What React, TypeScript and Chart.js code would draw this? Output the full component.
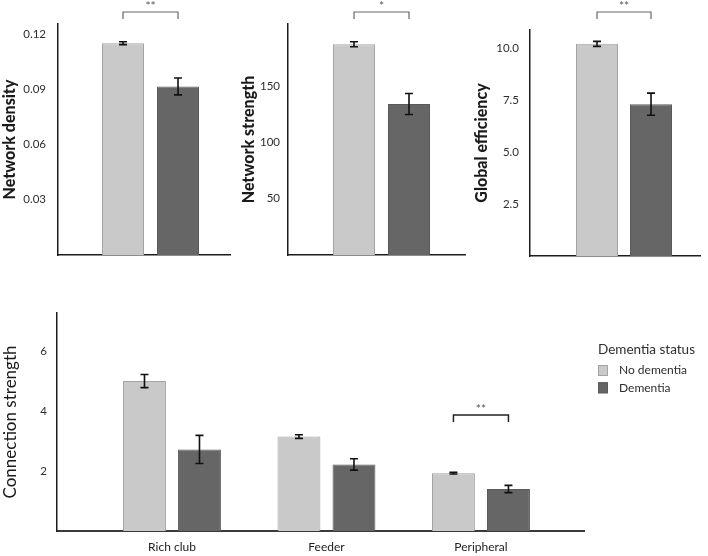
import React, { useEffect, useRef } from 'react';
import { Chart, registerables } from 'chart.js';

Chart.register(...registerables);

// ---------------- data ----------------
const GROUPS = ['No dementia', 'Dementia'];

const DENSITY = [0.115, 0.0915];
const DENSITY_ERR = [0.0008, 0.0046];
const DENSITY_TICKS = [0.03, 0.06, 0.09, 0.12];

const STRENGTH = [187, 134];
const STRENGTH_ERR = [2.2, 9.3];
const STRENGTH_TICKS = [50, 100, 150];

const EFFICIENCY = [10.2, 7.3];
const EFFICIENCY_ERR = [0.12, 0.53];
const EFFICIENCY_TICKS = [2.5, 5.0, 7.5, 10.0];

const TOP_SIGNIFICANCE = ['**', '*', '**'];

const CONNECTION_TYPES = ['Rich club', 'Feeder', 'Peripheral'];
const CONN_NO_DEMENTIA = [5.0, 3.15, 1.93];
const CONN_NO_DEMENTIA_ERR = [0.22, 0.06, 0.03];
const CONN_DEMENTIA = [2.72, 2.22, 1.4];
const CONN_DEMENTIA_ERR = [0.47, 0.19, 0.12];
const CONN_TICKS = [2, 4, 6];
const CONN_SIGNIFICANCE = ['', '', '**'];

const LEGEND_TITLE = 'Dementia status';

// ---------------- styles ----------------
const FONT = "Lato, 'Open Sans', sans-serif";
const LIGHT = '#c9c9c9';
const LIGHT_BORDER = '#a4a4a4';
const DARK = '#666666';
const DARK_BORDER = '#5a5a5a';
const AXIS = '#1c1c1c';
const TEXT = '#2e2e2e';

// ---------------- plugins ----------------
const errorBarsPlugin = {
  id: 'errorBars',
  afterDatasetsDraw(chart: any) {
    const { ctx } = chart;
    const yScale = chart.scales.y;
    chart.data.datasets.forEach((ds: any, di: number) => {
      const meta = chart.getDatasetMeta(di);
      const errs: number[] = ds.errors || [];
      meta.data.forEach((el: any, i: number) => {
        const e = errs[i];
        if (e === undefined) return;
        const v = ds.data[i].y;
        const x = el.x;
        const yTop = yScale.getPixelForValue(v + e);
        const yBot = yScale.getPixelForValue(v - e);
        const cap = 4;
        ctx.save();
        ctx.strokeStyle = '#111';
        ctx.lineWidth = 1.6;
        ctx.beginPath();
        ctx.moveTo(x, yTop);
        ctx.lineTo(x, yBot);
        ctx.moveTo(x - cap, yTop);
        ctx.lineTo(x + cap, yTop);
        ctx.moveTo(x - cap, yBot);
        ctx.lineTo(x + cap, yBot);
        ctx.stroke();
        ctx.restore();
      });
    });
  },
};

const bracketPlugin = {
  id: 'sigBracket',
  afterDraw(chart: any, _args: any, opts: any) {
    const items = (opts && opts.items) || [];
    const { ctx } = chart;
    const yScale = chart.scales.y;
    items.forEach((it: any) => {
      if (!it.label) return;
      const a = chart.getDatasetMeta(it.a[0]).data[it.a[1]];
      const b = chart.getDatasetMeta(it.b[0]).data[it.b[1]];
      const y = it.level !== undefined ? yScale.getPixelForValue(it.level) : it.y;
      ctx.save();
      ctx.strokeStyle = opts.color;
      ctx.lineWidth = opts.width;
      ctx.beginPath();
      ctx.moveTo(a.x, y + 7);
      ctx.lineTo(a.x, y);
      ctx.lineTo(b.x, y);
      ctx.lineTo(b.x, y + 7);
      ctx.stroke();
      ctx.fillStyle = '#555';
      ctx.font = `12px ${FONT}`;
      ctx.textAlign = 'center';
      ctx.textBaseline = 'middle';
      ctx.fillText(it.label, (a.x + b.x) / 2, y - 6);
      ctx.restore();
    });
  },
};

const statusLegendPlugin = {
  id: 'statusLegend',
  afterDraw(chart: any, _args: any, opts: any) {
    if (!opts || !opts.display) return;
    const { ctx, chartArea } = chart;
    const x = chartArea.right + 14;
    const top = chartArea.top;
    ctx.save();
    ctx.textBaseline = 'middle';
    ctx.textAlign = 'left';
    ctx.fillStyle = TEXT;
    ctx.font = `13.5px ${FONT}`;
    ctx.fillText(opts.title, x, top + 37);
    ctx.font = `12px ${FONT}`;
    chart.data.datasets.forEach((ds: any, i: number) => {
      const cy = top + 57.5 + i * 17.3;
      ctx.fillStyle = ds.backgroundColor;
      ctx.fillRect(x, cy - 5.5, 10, 11);
      ctx.strokeStyle = ds.borderColor;
      ctx.lineWidth = 1;
      ctx.strokeRect(x + 0.5, cy - 5, 9, 10);
      ctx.fillStyle = TEXT;
      ctx.fillText(ds.label, x + 21, cy);
    });
    ctx.restore();
  },
};

// ---------------- configs ----------------
type TopParams = {
  values: number[];
  errors: number[];
  ticks: number[];
  decimals: number;
  yMax: number;
  xMin: number;
  xMax: number;
  yWidth: number;
  xHeight: number;
  padding: any;
  tickPad: number;
  titlePad: number;
  title: string;
  sig: string;
  barPct: number;
};

function topConfig(p: TopParams): any {
  return {
    type: 'bar',
    data: {
      datasets: [
        {
          label: p.title,
          data: p.values.map((v, i) => ({ x: i + 1, y: v })),
          errors: p.errors,
          backgroundColor: [LIGHT, DARK],
          borderColor: [LIGHT_BORDER, DARK_BORDER],
          borderWidth: 1,
          barPercentage: p.barPct,
          categoryPercentage: 1,
        },
      ],
    },
    options: {
      animation: false,
      responsive: false,
      maintainAspectRatio: false,
      devicePixelRatio: 1,
      events: [],
      layout: { padding: p.padding },
      plugins: {
        legend: { display: false },
        tooltip: { enabled: false },
        sigBracket: {
          color: '#666',
          width: 1.2,
          items: [{ a: [0, 0], b: [0, 1], y: 12, label: p.sig }],
        },
      },
      scales: {
        x: {
          type: 'linear',
          offset: false,
          min: p.xMin,
          max: p.xMax,
          afterBuildTicks: (s: any) => {
            s.ticks = GROUPS.map((_, i) => ({ value: i + 1 }));
          },
          afterFit: (s: any) => {
            s.height = p.xHeight;
            s.paddingLeft = 0;
            s.paddingRight = 0;
          },
          grid: { display: false, drawTicks: false },
          border: { display: true, color: AXIS, width: 1.5 },
          ticks: { display: false },
        },
        y: {
          min: 0,
          max: p.yMax,
          afterBuildTicks: (s: any) => {
            s.ticks = p.ticks.map((v) => ({ value: v }));
          },
          afterFit: (s: any) => {
            s.width = p.yWidth;
            s.paddingTop = 0;
            s.paddingBottom = 0;
          },
          grid: { display: false, drawTicks: false },
          border: { display: true, color: AXIS, width: 1.5 },
          ticks: {
            padding: p.tickPad,
            color: TEXT,
            font: { family: FONT, size: 11.5 },
            callback: (v: any) => Number(v).toFixed(p.decimals),
          },
          title: {
            display: true,
            text: p.title,
            color: '#1a1a1a',
            font: { family: FONT, size: 16, weight: '900' },
            padding: { top: p.titlePad, bottom: 0 },
          },
        },
      },
    },
    plugins: [errorBarsPlugin, bracketPlugin],
  };
}

function bottomConfig(): any {
  return {
    type: 'bar',
    data: {
      datasets: [
        {
          label: GROUPS[0],
          data: CONN_NO_DEMENTIA.map((v, i) => ({ x: i + 1, y: v })),
          errors: CONN_NO_DEMENTIA_ERR,
          backgroundColor: LIGHT,
          borderColor: LIGHT_BORDER,
          borderWidth: 1,
          barPercentage: 0.78,
          categoryPercentage: 0.712,
        },
        {
          label: GROUPS[1],
          data: CONN_DEMENTIA.map((v, i) => ({ x: i + 1, y: v })),
          errors: CONN_DEMENTIA_ERR,
          backgroundColor: DARK,
          borderColor: DARK_BORDER,
          borderWidth: 1,
          barPercentage: 0.78,
          categoryPercentage: 0.712,
        },
      ],
    },
    options: {
      animation: false,
      responsive: false,
      maintainAspectRatio: false,
      devicePixelRatio: 1,
      events: [],
      layout: { padding: { top: 13, right: 124, left: 0, bottom: 0 } },
      plugins: {
        legend: { display: false },
        tooltip: { enabled: false },
        statusLegend: { display: true, title: LEGEND_TITLE },
        sigBracket: {
          color: '#222',
          width: 1.5,
          items: CONN_SIGNIFICANCE.map((s, i) => ({ a: [0, i], b: [1, i], level: 3.87, label: s })),
        },
      },
      scales: {
        x: {
          type: 'linear',
          offset: false,
          min: 0.2557,
          max: 3.667,
          afterBuildTicks: (s: any) => {
            s.ticks = CONNECTION_TYPES.map((_, i) => ({ value: i + 1 }));
          },
          afterFit: (s: any) => {
            s.height = 25;
            s.paddingLeft = 0;
            s.paddingRight = 0;
          },
          grid: { display: false, drawTicks: false },
          border: { display: true, color: '#3a3a3a', width: 2 },
          ticks: {
            padding: 9,
            color: '#222',
            font: { family: FONT, size: 12 },
            maxRotation: 0,
            callback: (v: any) => CONNECTION_TYPES[Math.round(Number(v)) - 1] || '',
          },
        },
        y: {
          min: 0,
          max: 7.27,
          afterBuildTicks: (s: any) => {
            s.ticks = CONN_TICKS.map((v) => ({ value: v }));
          },
          afterFit: (s: any) => {
            s.width = 57;
            s.paddingTop = 0;
            s.paddingBottom = 0;
          },
          grid: { display: false, drawTicks: false },
          border: { display: true, color: AXIS, width: 1.5 },
          ticks: {
            padding: 10,
            color: TEXT,
            font: { family: FONT, size: 11.5 },
            callback: (v: any) => String(v),
          },
          title: {
            display: true,
            text: 'Connection strength',
            color: '#1a1a1a',
            font: { family: FONT, size: 17, weight: 'normal' },
            padding: { top: 0, bottom: 0 },
          },
        },
      },
    },
    plugins: [errorBarsPlugin, bracketPlugin, statusLegendPlugin],
  };
}

// ---------------- components ----------------
function Panel({ make, left, top, width, height }: any) {
  const ref = useRef<HTMLCanvasElement>(null);
  useEffect(() => {
    const chart = new Chart(ref.current as HTMLCanvasElement, make());
    return () => chart.destroy();
  }, []);
  return (
    <canvas
      ref={ref}
      width={width}
      height={height}
      style={{ position: 'absolute', left, top, width, height }}
    />
  );
}

export default function App() {
  return (
    <div
      style={{
        position: 'fixed',
        left: 0,
        top: 0,
        width: 708,
        height: 556,
        background: '#ffffff',
        overflow: 'hidden',
      }}
    >
      <Panel
        left={0}
        top={0}
        width={236}
        height={270}
        make={() =>
          topConfig({
            values: DENSITY,
            errors: DENSITY_ERR,
            ticks: DENSITY_TICKS,
            decimals: 2,
            yMax: 0.1254,
            xMin: -0.1818,
            xMax: 2.945,
            yWidth: 58,
            xHeight: 15,
            padding: { top: 24, right: 6, left: 0, bottom: 0 },
            tickPad: 12,
            titlePad: 0,
            title: 'Network density',
            sig: TOP_SIGNIFICANCE[0],
            barPct: 0.764,
          })
        }
      />
      <Panel
        left={230}
        top={0}
        width={240}
        height={270}
        make={() =>
          topConfig({
            values: STRENGTH,
            errors: STRENGTH_ERR,
            ticks: STRENGTH_TICKS,
            decimals: 0,
            yMax: 205,
            xMin: -0.2,
            xMax: 3.018,
            yWidth: 58,
            xHeight: 15,
            padding: { top: 24, right: 5, left: 0, bottom: 0 },
            tickPad: 8,
            titlePad: 9,
            title: 'Network strength',
            sig: TOP_SIGNIFICANCE[1],
            barPct: 0.764,
          })
        }
      />
      <Panel
        left={460}
        top={0}
        width={248}
        height={270}
        make={() =>
          topConfig({
            values: EFFICIENCY,
            errors: EFFICIENCY_ERR,
            ticks: EFFICIENCY_TICKS,
            decimals: 1,
            yMax: 10.865,
            xMin: -0.2407,
            xMax: 2.907,
            yWidth: 70,
            xHeight: 14,
            padding: { top: 30, right: 8, left: 0, bottom: 0 },
            tickPad: 11,
            titlePad: 12,
            title: 'Global efficiency',
            sig: TOP_SIGNIFICANCE[2],
            barPct: 0.778,
          })
        }
      />
      <Panel left={0} top={300} width={708} height={256} make={bottomConfig} />
    </div>
  );
}
